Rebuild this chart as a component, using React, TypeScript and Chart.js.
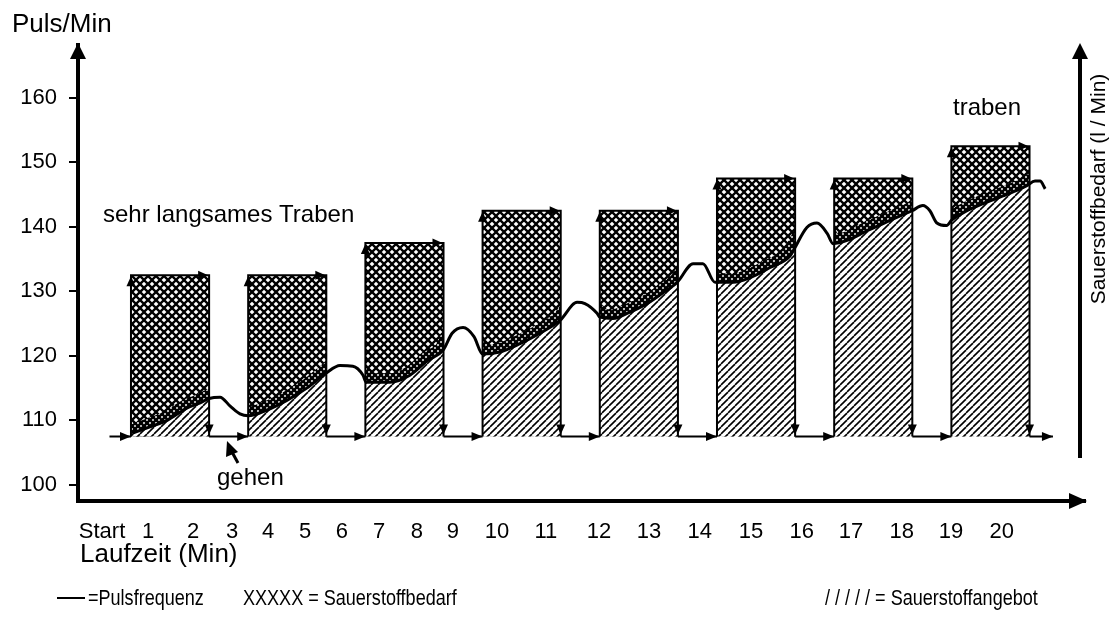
import React, { useEffect, useRef } from 'react';
import { Chart, registerables } from 'chart.js';

Chart.register(...registerables);

// ---------- data ----------
// Pulse rate (beats/min) read along the running time (minutes)
const pulseMinutes = [
  1.03, 1.49, 1.92, 2.43, 2.77, 3.0, 3.28, 3.54, 3.79, 4.0,
  4.48, 4.99, 5.5, 5.99, 6.35, 6.68, 6.94, 7.02, 7.63, 8.14,
  8.6, 8.99, 9.22, 9.5, 9.78, 10.0, 10.44, 10.96, 11.47, 11.98,
  12.42, 12.62, 12.93, 13.0, 13.34, 13.7, 14.21, 14.62, 14.98, 15.39,
  15.64, 15.95, 16.42, 16.84, 17.36, 17.87, 17.97, 18.3, 18.56, 18.82,
  18.97, 19.33, 19.84, 20.43, 20.99, 21.27, 21.45, 21.63, 21.88, 22.0,
  22.4, 22.81, 23.32, 23.76, 23.93, 24.14, 24.27, 24.4,
];
const pulseRate = [
  108.0, 109.0, 110.0, 111.9, 112.7, 113.4, 113.6, 112.2, 111.0, 110.7,
  111.6, 113.1, 115.0, 117.3, 118.5, 118.4, 117.0, 115.9, 115.9, 117.0,
  119.3, 120.9, 123.5, 124.4, 123.0, 120.3, 120.6, 121.9, 123.5, 125.5,
  128.3, 128.1, 126.6, 126.0, 125.8, 126.6, 128.1, 129.8, 131.4, 134.3,
  134.3, 131.4, 131.4, 132.1, 133.7, 135.5, 136.5, 139.9, 140.6, 139.0,
  137.4, 137.9, 139.4, 141.0, 142.5, 143.3, 142.5, 140.6, 140.2, 141.0,
  142.5, 143.6, 144.8, 145.9, 146.4, 147.1, 147.1, 145.9,
];

// Running phases ("traben") with their oxygen demand level
const runStart = [1, 4, 7, 10, 13, 16, 19, 22];
const runEnd = [3, 6, 9, 12, 15, 18, 21, 24];
const oxygenDemand = [132.5, 132.5, 137.5, 142.5, 142.5, 147.5, 147.5, 152.5];

// Walking phases ("gehen") along the base level
const walkStart = [0.45, 3, 6, 9, 12, 15, 18, 21, 24];
const walkEnd = [1, 4, 7, 10, 13, 16, 19, 22, 24.6];
const baseLevel = 107.5;

// Axis ticks
const yTickValues = [100, 110, 120, 130, 140, 150, 160];
const xTickLabels = ['Start', '1', '2', '3', '4', '5', '6', '7', '8', '9', '10',
  '11', '12', '13', '14', '15', '16', '17', '18', '19', '20'];
const xTickPositions = [0.26, 1.44, 2.59, 3.59, 4.51, 5.46, 6.4, 7.35, 8.32, 9.24, 10.37,
  11.62, 12.98, 14.26, 15.56, 16.87, 18.17, 19.43, 20.73, 21.99, 23.29];

const FONT = "'Liberation Sans', Arial, Helvetica, sans-serif";

function makePattern(ctx: CanvasRenderingContext2D, size: number, lw: number, cross: boolean) {
  const c = document.createElement('canvas');
  c.width = size;
  c.height = size;
  const g = c.getContext('2d') as CanvasRenderingContext2D;
  g.fillStyle = '#fff';
  g.fillRect(0, 0, size, size);
  g.strokeStyle = '#000';
  g.lineWidth = lw;
  for (const o of [-size, 0, size]) {
    g.beginPath();
    g.moveTo(o, size);
    g.lineTo(o + size, 0);
    g.stroke();
    if (cross) {
      g.beginPath();
      g.moveTo(o, 0);
      g.lineTo(o + size, size);
      g.stroke();
    }
  }
  return ctx.createPattern(c, 'repeat') as CanvasPattern;
}

function tri(ctx: CanvasRenderingContext2D, p: number[]) {
  ctx.beginPath();
  ctx.moveTo(p[0], p[1]);
  ctx.lineTo(p[2], p[3]);
  ctx.lineTo(p[4], p[5]);
  ctx.closePath();
  ctx.fill();
}

const decorPlugin = {
  id: 'decor',
  beforeDatasetsDraw(chart: any) {
    const { ctx } = chart;
    const xs = chart.scales.x;
    const ys = chart.scales.y;
    const meta = chart.getDatasetMeta(0);
    const line = meta.dataset;
    const pts = meta.data;
    const cross = makePattern(ctx, 8, 2.3, true);
    const dark = makePattern(ctx, 6, 2.6, true);
    const hatch = makePattern(ctx, 7, 1.6, false);
    const yb = ys.getPixelForValue(baseLevel);

    ctx.save();
    runStart.forEach((s, i) => {
      const x0 = xs.getPixelForValue(s);
      const x1 = xs.getPixelForValue(runEnd[i]);
      const yt = ys.getPixelForValue(oxygenDemand[i]);
      ctx.save();
      ctx.beginPath();
      ctx.rect(x0, yt, x1 - x0, yb - yt);
      ctx.clip();
      ctx.fillStyle = cross;
      ctx.fillRect(x0, yt, x1 - x0, yb - yt);
      // darker zone just above the pulse curve
      ctx.beginPath();
      line.path(ctx);
      ctx.lineWidth = 18;
      ctx.strokeStyle = dark;
      ctx.stroke();
      // supply area below the pulse curve
      ctx.beginPath();
      line.path(ctx);
      const first = pts[0];
      const last = pts[pts.length - 1];
      ctx.lineTo(last.x + 40, last.y);
      ctx.lineTo(last.x + 40, yb + 20);
      ctx.lineTo(first.x - 60, yb + 20);
      ctx.lineTo(first.x - 60, first.y);
      ctx.closePath();
      ctx.fillStyle = hatch;
      ctx.fill();
      ctx.restore();

      ctx.strokeStyle = '#000';
      ctx.lineWidth = 2;
      ctx.beginPath();
      ctx.moveTo(x0, yb);
      ctx.lineTo(x0, yt);
      ctx.lineTo(x1, yt);
      ctx.lineTo(x1, yb);
      ctx.stroke();
      ctx.fillStyle = '#000';
      tri(ctx, [x0, yt + 1, x0 - 4.5, yt + 11, x0 + 4.5, yt + 11]);
      tri(ctx, [x1 - 1, yt, x1 - 11, yt - 4.5, x1 - 11, yt + 4.5]);
      tri(ctx, [x1, yb - 2, x1 - 4.5, yb - 12, x1 + 4.5, yb - 12]);
    });

    walkStart.forEach((s, i) => {
      const xa = xs.getPixelForValue(s);
      const xe = xs.getPixelForValue(walkEnd[i]);
      ctx.strokeStyle = '#000';
      ctx.lineWidth = 2;
      ctx.beginPath();
      ctx.moveTo(xa, yb);
      ctx.lineTo(xe, yb);
      ctx.stroke();
      ctx.fillStyle = '#000';
      tri(ctx, [xe, yb, xe - 11, yb - 4.5, xe - 11, yb + 4.5]);
    });
    ctx.restore();
  },
  afterDraw(chart: any) {
    const { ctx, chartArea } = chart;
    const { left, right, top, bottom } = chartArea;
    ctx.save();
    ctx.fillStyle = '#000';
    ctx.strokeStyle = '#000';
    // axis arrow heads
    tri(ctx, [left, top - 2, left - 8, top + 14, left + 8, top + 14]);
    tri(ctx, [right + 2, bottom, right - 16, bottom - 8, right - 16, bottom + 8]);
    // right-hand axis (oxygen demand)
    const rx = right - 5;
    ctx.lineWidth = 4;
    ctx.beginPath();
    ctx.moveTo(rx, bottom - 43);
    ctx.lineTo(rx, top + 10);
    ctx.stroke();
    tri(ctx, [rx, top - 2, rx - 8, top + 14, rx + 8, top + 14]);

    ctx.textBaseline = 'alphabetic';
    ctx.textAlign = 'left';
    ctx.font = `26px ${FONT}`;
    ctx.fillText('Puls/Min', 12, 32);
    ctx.fillText('Laufzeit (Min)', 80, 562);

    ctx.font = `24px ${FONT}`;
    ctx.fillText('sehr langsames Traben', 103, 222);
    ctx.fillText('traben', 953, 115);
    ctx.fillText('gehen', 217, 485);

    // cursor arrow pointing at the walking phase
    tri(ctx, [227, 441, 226, 457, 238, 452]);
    ctx.lineWidth = 3;
    ctx.beginPath();
    ctx.moveTo(232, 452);
    ctx.lineTo(238, 463);
    ctx.stroke();

    // rotated right axis title
    ctx.save();
    ctx.translate(1099, 189);
    ctx.rotate(-Math.PI / 2);
    ctx.textAlign = 'center';
    ctx.textBaseline = 'middle';
    ctx.font = `21px ${FONT}`;
    ctx.fillText('Sauerstoffbedarf (l / Min)', 0, 0);
    ctx.restore();

    // legend
    ctx.lineWidth = 2;
    ctx.beginPath();
    ctx.moveTo(57, 598);
    ctx.lineTo(85, 598);
    ctx.stroke();
    ctx.font = `22px ${FONT}`;
    const narrow = (t: string, x: number) => {
      ctx.save();
      ctx.translate(x, 605);
      ctx.scale(0.82, 1);
      ctx.fillText(t, 0, 0);
      ctx.restore();
    };
    narrow('=Pulsfrequenz', 88);
    narrow('XXXXX = Sauerstoffbedarf', 243);
    narrow('/ / / / / = Sauerstoffangebot', 825);
    ctx.restore();
  },
};

export default function App() {
  const canvasRef = useRef<HTMLCanvasElement | null>(null);

  useEffect(() => {
    const canvas = canvasRef.current;
    if (!canvas) return;
    const chart = new Chart(canvas, {
      type: 'line',
      data: {
        datasets: [
          {
            label: 'Pulsfrequenz',
            data: pulseMinutes.map((m, i) => ({ x: m, y: pulseRate[i] })),
            borderColor: '#000',
            borderWidth: 3,
            pointRadius: 0,
            cubicInterpolationMode: 'monotone',
            fill: false,
          },
        ],
      },
      options: {
        animation: false,
        responsive: false,
        devicePixelRatio: 1,
        layout: { padding: { top: 45, right: 30, bottom: 84, left: 0 } },
        plugins: { legend: { display: false }, tooltip: { enabled: false } },
        scales: {
          x: {
            type: 'linear',
            min: -0.356,
            max: 25.42,
            grid: { display: false },
            border: { display: true, color: '#000', width: 4 },
            ticks: {
              color: '#000',
              font: { size: 22, family: FONT },
              padding: 10,
              autoSkip: false,
              maxRotation: 0,
              minRotation: 0,
              callback: (_v: any, i: number) => xTickLabels[i] ?? '',
            },
            afterBuildTicks: (s: any) => {
              s.ticks = xTickPositions.map((v) => ({ value: v }));
            },
            afterFit: (s: any) => {
              s.height = 50;
            },
          },
          y: {
            type: 'linear',
            min: 97.5,
            max: 168.2,
            grid: {
              display: true,
              drawOnChartArea: false,
              drawTicks: true,
              tickLength: 9,
              color: '#000',
              lineWidth: 2,
            },
            border: { display: true, color: '#000', width: 4 },
            ticks: {
              color: '#000',
              font: { size: 22, family: FONT },
              padding: 12,
            },
            afterBuildTicks: (s: any) => {
              s.ticks = yTickValues.map((v) => ({ value: v }));
            },
            afterFit: (s: any) => {
              s.width = 78;
            },
          },
        },
      } as any,
      plugins: [decorPlugin],
    });
    return () => chart.destroy();
  }, []);

  return (
    <div style={{ position: 'absolute', left: 0, top: 0, width: 1115, height: 635, background: '#fff' }}>
      <canvas ref={canvasRef} width={1115} height={635} style={{ display: 'block' }} />
    </div>
  );
}
